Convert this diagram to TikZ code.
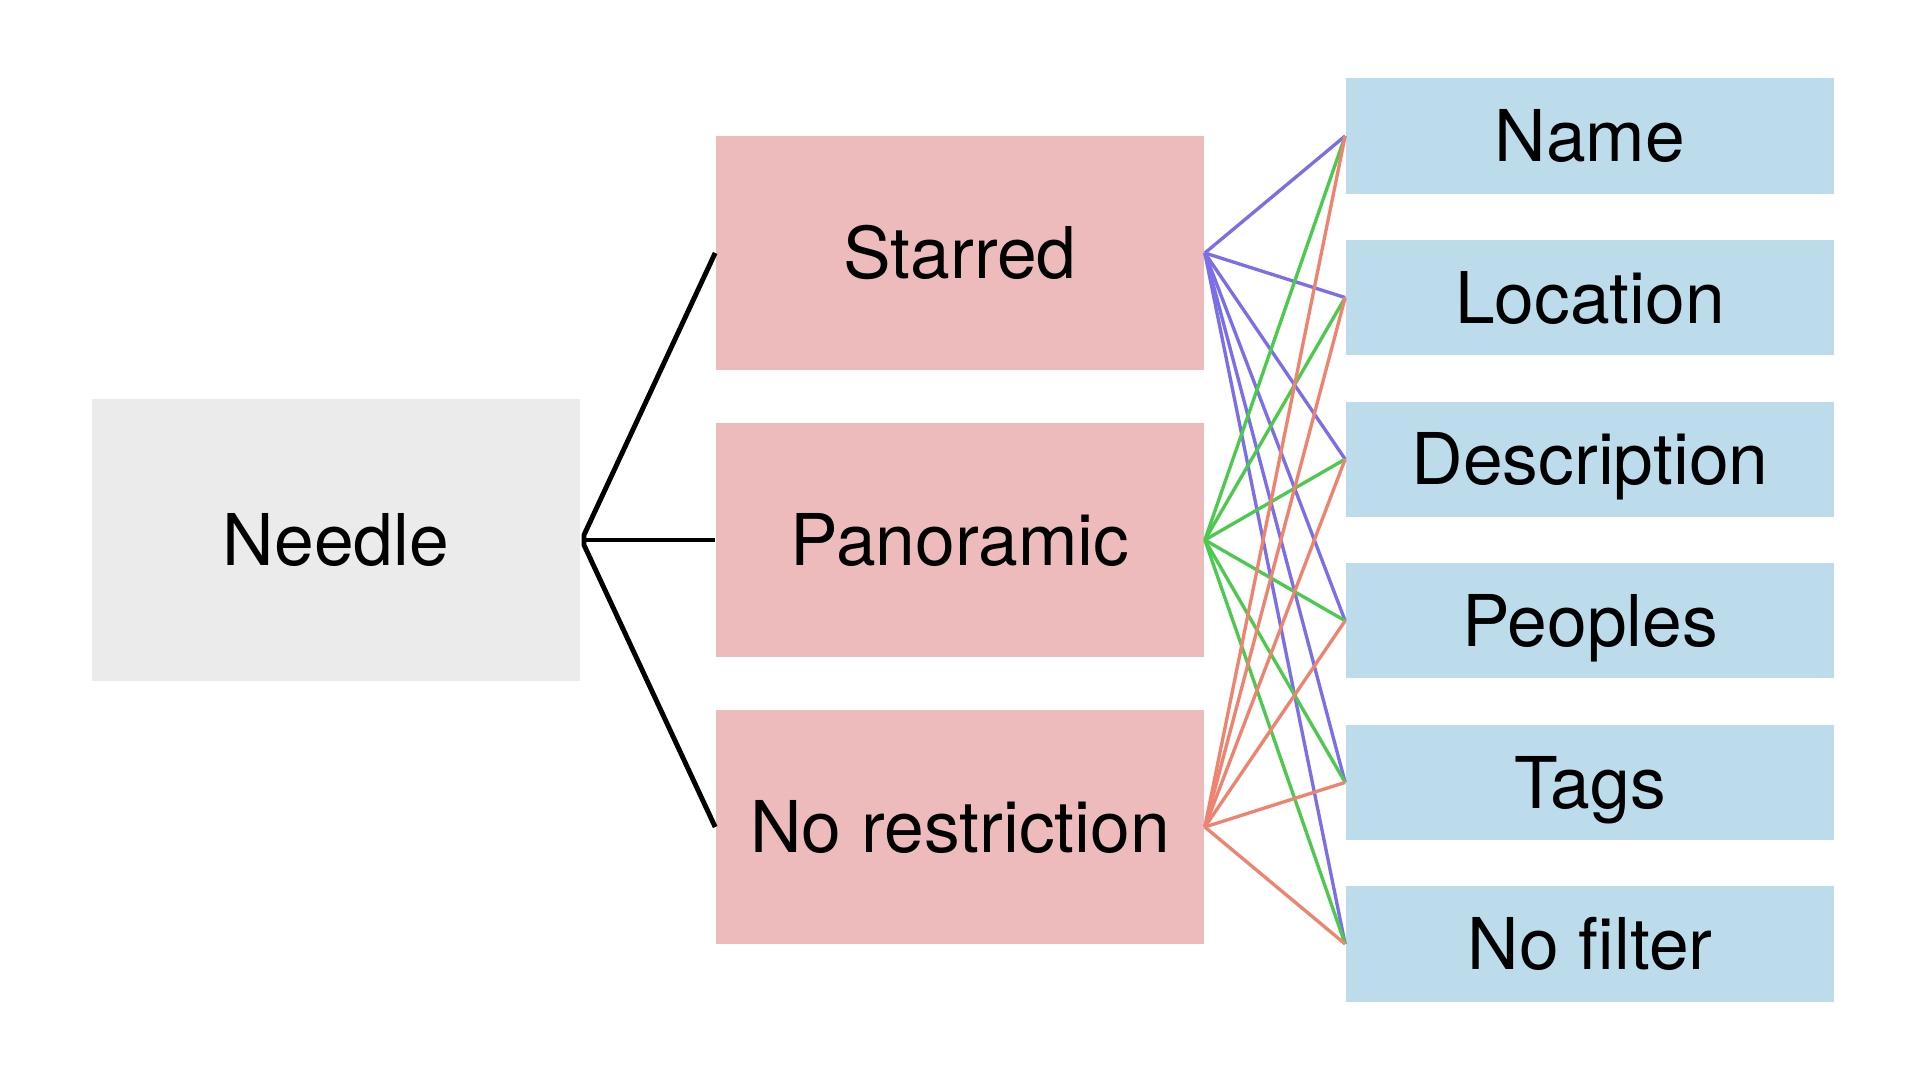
\documentclass[tikz,border=0pt]{standalone}
\usepackage{fontspec}
\setmainfont{TeX Gyre Heros}
\definecolor{rootgray}{HTML}{EBEBEB}
\definecolor{modepink}{HTML}{EDBBBB}
\definecolor{fieldblue}{HTML}{BCDCEC}
\definecolor{linkpurple}{HTML}{7B6FE8}
\definecolor{linkgreen}{HTML}{4DC94D}
\definecolor{linksalmon}{HTML}{EE8470}

\begin{document}
\begin{tikzpicture}[x=0.01cm, y=-0.01cm,
    box/.style={rectangle, minimum width=4.88cm, inner sep=0pt,
      text height=14.6pt, text depth=0pt, font=\fontsize{20.3}{24}\selectfont},
    root/.style={box, fill=rootgray, minimum height=2.82cm},
    mode/.style={box, fill=modepink, minimum height=2.33cm},
    field/.style={box, fill=fieldblue, minimum height=1.15cm},
    tree/.style={line width=1.4pt, line join=round},
    link/.style={line width=0.95pt}]

  \useasboundingbox (0,0) rectangle (1920,1080);

  \node[root] (needle) at (336,540) {Needle};

  \node[mode] (starred) at (960,253) {Starred};
  \node[mode] (panoramic) at (960,540) {Panoramic};
  \node[mode] (norestriction) at (960,827) {No restriction};

  \foreach \fname/\ftext [count=\i from 0] in {name/Name, location/Location,
      description/Description, peoples/Peoples, tags/Tags, nofilter/No filter}{
    \node[field] (\fname) at (1590,{136+161.6*\i}) {\ftext};
  }

  % needle to modes
  \coordinate (fork) at (584,540);
  \draw[tree] (fork) -- ++(0,-5) -- (starred.west);
  \draw[tree] (fork) -- (panoramic.west);
  \draw[tree] (fork) -- ++(0,5) -- (norestriction.west);

  % modes to fields
  \foreach \mode/\col in {starred/linkpurple, panoramic/linkgreen, norestriction/linksalmon}{
    \foreach \fname in {name, location, description, peoples, tags, nofilter}{
      \draw[link, \col] (\mode.east) -- (\fname.west);
    }
  }
\end{tikzpicture}
\end{document}
